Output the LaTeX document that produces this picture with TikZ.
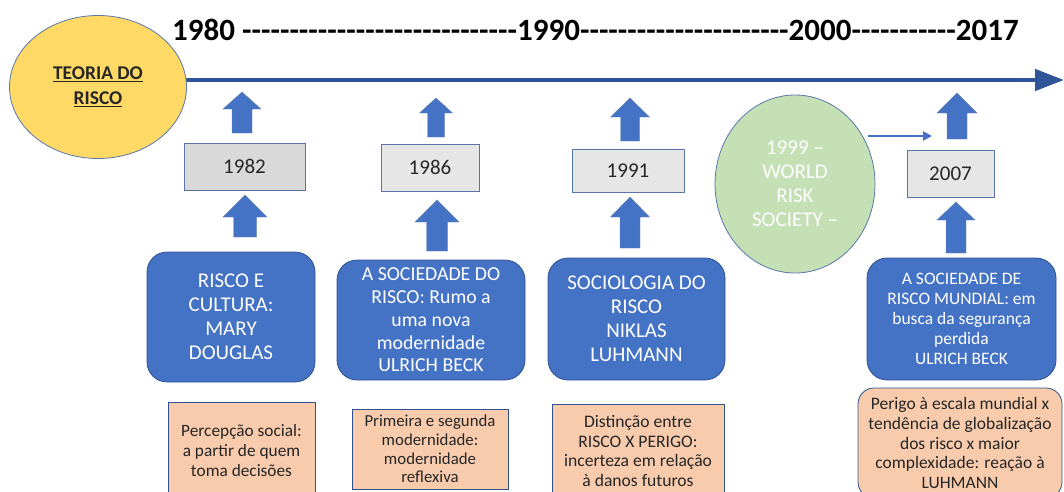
\documentclass[tikz,border=0pt]{standalone}
\usepackage{fontspec}
\setmainfont{Carlito}
\usetikzlibrary{arrows.meta,shapes.geometric}
\definecolor{bfill}{HTML}{4472C4}
\definecolor{bline}{HTML}{2F528F}
\definecolor{tline}{HTML}{2F5597}
\definecolor{yfill}{HTML}{FFD966}
\definecolor{gfill}{HTML}{C5E0B4}
\definecolor{ofill}{HTML}{F8CBAD}
\definecolor{grayfill}{HTML}{E7E6E6}
\definecolor{grayfilld}{HTML}{D9D9D9}
\definecolor{txt}{HTML}{262626}
\newcommand\blockup[6]{%
  \filldraw[fill=bfill,draw=bline!70,line width=0.4pt]
  (#1-#6,#4) -- (#1-#6,#3) -- (#1-#5,#3) -- (#1,#2) -- (#1+#5,#3) -- (#1+#6,#3) -- (#1+#6,#4) -- cycle;}
\newcommand\dsh[1]{\foreach\i in {1,...,#1}{-\kern0pt}}
\tikzset{
  bluebox/.style={draw=bline,fill=bfill,line width=0.8pt,rounded corners=20pt,text=white,align=center,inner sep=2pt},
  yearbox/.style={draw=bline!80,fill=grayfill,line width=0.8pt,text=txt,font=\fontsize{21}{24}\selectfont,inner sep=0pt},
  notebox/.style={draw=bline,fill=ofill,line width=0.8pt,text=txt,align=center,inner sep=2pt},
}
\begin{document}
\begin{tikzpicture}[x=1pt,y=-1pt]
\useasboundingbox (0,0) rectangle (1064,491);
% title
\node[anchor=base west,inner sep=0pt,font=\bfseries\fontsize{31}{37}\selectfont] (years) at (172,40)
 {1980 \dsh{29}1990\dsh{22}2000\dsh{11}2017};
% timeline
\coordinate (tls) at (180,80);
\coordinate (tle) at (1064,80);
\draw[tline,line width=4.5pt,-{Triangle[length=29pt,width=21pt]}] (tls) -- (tle);
% theory ellipse
\node[ellipse,draw=tline!80,line width=0.8pt,fill=yfill,minimum width=177pt,minimum height=143pt,inner sep=0pt,
  align=center,font=\bfseries\fontsize{19.5}{25}\selectfont,text=txt] (teoria) at (98,87)
  {\underline{TEORIA DO}\\\underline{RISCO}};
% green ellipse
\node[ellipse,draw=tline!80,line width=0.8pt,fill=gfill,minimum width=160pt,minimum height=178pt,inner sep=0pt,
  align=center,text=white,font=\fontsize{21}{24}\selectfont] (world) at (795,184)
  {1999 –\\WORLD\\RISK\\SOCIETY –};
\coordinate (warrow) at (932,136);
\draw[bfill,line width=2.5pt,-{Triangle[length=9pt,width=9pt]}] (868,136) -- (warrow);
% year boxes
\node[yearbox,fill=grayfilld,minimum width=121pt,minimum height=47pt] (y82) at (244.5,166.5) {1982};
\node[yearbox,minimum width=98pt,minimum height=47pt] (y86) at (430,167.5) {1986};
\node[yearbox,minimum width=112pt,minimum height=43pt] (y91) at (628,170.5) {1991};
\node[yearbox,minimum width=87pt,minimum height=47pt] (y07) at (950.5,173.5) {2007};
% block arrows
\blockup{242}{92}{109}{133}{19}{10}
\blockup{245}{195}{217}{237}{22}{11.5}
\blockup{436}{98}{113}{137}{16.5}{8.5}
\blockup{437}{200}{222}{251}{22}{10.5}
\blockup{630}{98}{117}{141}{19.5}{9.5}
\blockup{630}{197}{217}{248}{19.5}{10}
\blockup{957}{93}{113}{139}{20}{10}
\blockup{956}{202}{220}{253}{19}{10}
% blue boxes
\node[bluebox,minimum width=168pt,minimum height=130pt,font=\fontsize{21}{24}\selectfont] (b1) at (231,317)
  {RISCO E\\CULTURA:\\MARY\\DOUGLAS};
\node[bluebox,minimum width=188pt,minimum height=120pt,font=\fontsize{19.8}{22.7}\selectfont] (b2) at (431,320)
  {A SOCIEDADE DO\\RISCO: Rumo a\\uma nova\\modernidade\\ULRICH BECK};
\node[bluebox,minimum width=177pt,minimum height=122pt,font=\fontsize{21}{24}\selectfont] (b3) at (636.5,319)
  {SOCIOLOGIA DO\\RISCO\\NIKLAS\\LUHMANN};
\node[bluebox,minimum width=189pt,minimum height=122pt,font=\fontsize{17.5}{20}\selectfont] (b4) at (961.5,319)
  {A SOCIEDADE DE\\RISCO MUNDIAL: em\\busca da segurança\\perdida\\ULRICH BECK};
% note boxes
\node[notebox,minimum width=147pt,minimum height=98pt,font=\fontsize{17.3}{20}\selectfont] (n1) at (241.5,451)
  {Percepção social:\\a partir de quem\\toma decisões};
\node[notebox,minimum width=156pt,minimum height=80pt,font=\fontsize{16.8}{18.7}\selectfont] (n2) at (430,449)
  {Primeira e segunda\\modernidade:\\modernidade\\reflexiva};
\node[notebox,minimum width=172pt,minimum height=94pt,font=\fontsize{17.6}{19.7}\selectfont] (n3) at (638,451)
  {Distinção entre\\RISCO X PERIGO:\\incerteza em relação\\à danos futuros};
\node[notebox,rounded corners=16pt,minimum width=204pt,minimum height=110pt,font=\fontsize{17.5}{19.8}\selectfont] (n4) at (960,443)
  {Perigo à escala mundial x\\tendência de globalização\\dos risco x maior\\complexidade: reação à\\LUHMANN};
\end{tikzpicture}
\end{document}
